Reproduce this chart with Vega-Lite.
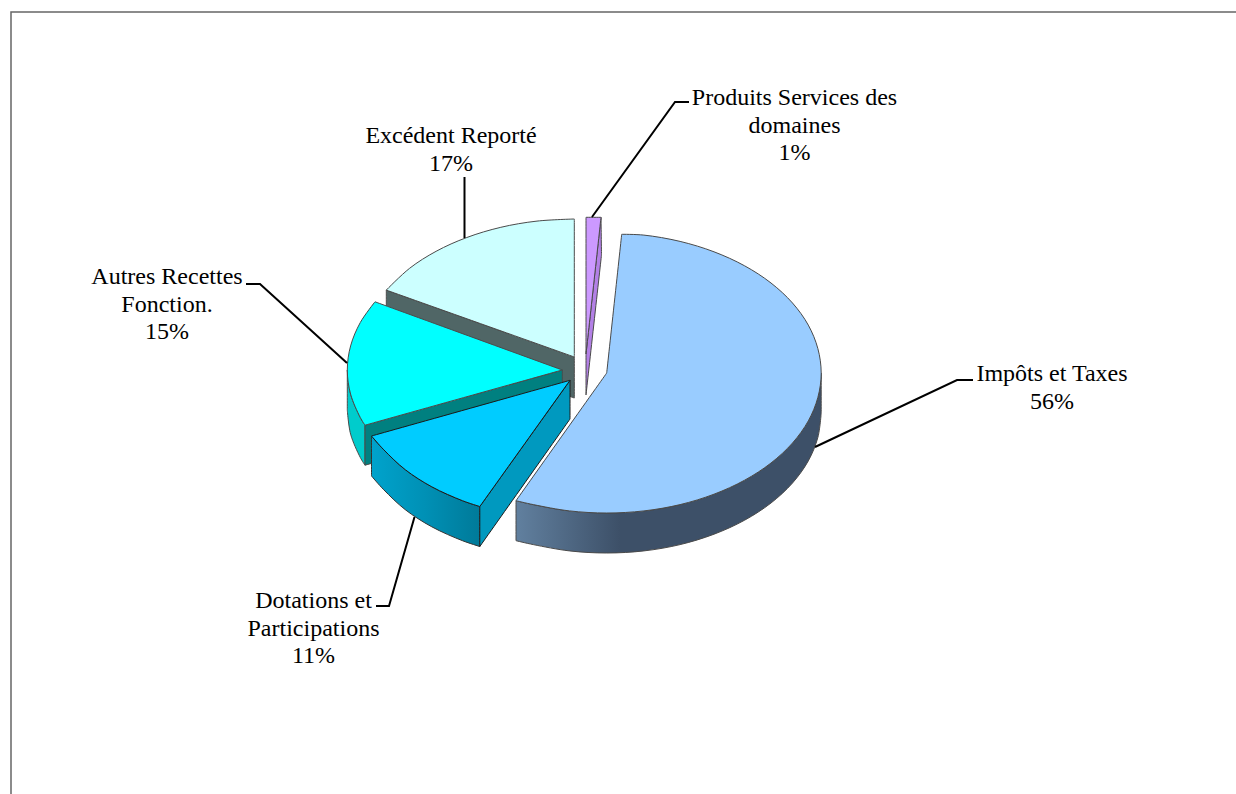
{
  "$schema": "https://vega.github.io/schema/vega-lite/v6.json",
  "width": 1236,
  "height": 794,
  "autosize": {"type": "none"},
  "padding": 0,
  "background": "#ffffff",
  "view": {"stroke": null},
  "datasets": {
    "faces": [
      {"part":"excedent_coupe","n":1,"x":386.3,"y":290.1},{"part":"excedent_coupe","n":2,"x":386.3,"y":290.1},{"part":"excedent_coupe","n":3,"x":574.3,"y":357},{"part":"excedent_coupe","n":4,"x":574.3,"y":357},{"part":"excedent_coupe","n":5,"x":574.3,"y":398},{"part":"excedent_coupe","n":6,"x":574.3,"y":398},{"part":"excedent_coupe","n":7,"x":386.3,"y":331},{"part":"excedent_coupe","n":8,"x":386.3,"y":331},{"part":"excedent_coupe","n":9,"x":386.3,"y":290.1},{"part":"excedent_coupe","n":10,"x":386.3,"y":290.1},

      {"part":"excedent_dessus","n":1,"x":574.3,"y":219},{"part":"excedent_dessus","n":2,"x":574.3,"y":219},{"part":"excedent_dessus","n":3,"x":537,"y":221.1},{"part":"excedent_dessus","n":4,"x":500.8,"y":227.3},{"part":"excedent_dessus","n":5,"x":466.8,"y":237.5},{"part":"excedent_dessus","n":6,"x":436.1,"y":251.3},{"part":"excedent_dessus","n":7,"x":409.6,"y":268.3},{"part":"excedent_dessus","n":8,"x":386.3,"y":290.1},{"part":"excedent_dessus","n":9,"x":386.3,"y":290.1},{"part":"excedent_dessus","n":10,"x":574.3,"y":357},{"part":"excedent_dessus","n":11,"x":574.3,"y":357},{"part":"excedent_dessus","n":12,"x":574.3,"y":219},{"part":"excedent_dessus","n":13,"x":574.3,"y":219},

      {"part":"produits_coupe","n":1,"x":601,"y":217.3},{"part":"produits_coupe","n":2,"x":601,"y":217.3},{"part":"produits_coupe","n":3,"x":601.5,"y":255},{"part":"produits_coupe","n":4,"x":601.5,"y":255},{"part":"produits_coupe","n":5,"x":586,"y":395},{"part":"produits_coupe","n":6,"x":586,"y":395},{"part":"produits_coupe","n":7,"x":586,"y":354},{"part":"produits_coupe","n":8,"x":586,"y":354},{"part":"produits_coupe","n":9,"x":601,"y":217.3},{"part":"produits_coupe","n":10,"x":601,"y":217.3},

      {"part":"produits_dessus","n":1,"x":586,"y":217.3},{"part":"produits_dessus","n":2,"x":586,"y":217.3},{"part":"produits_dessus","n":3,"x":601,"y":217.3},{"part":"produits_dessus","n":4,"x":601,"y":217.3},{"part":"produits_dessus","n":5,"x":586,"y":354},{"part":"produits_dessus","n":6,"x":586,"y":354},{"part":"produits_dessus","n":7,"x":586,"y":217.3},{"part":"produits_dessus","n":8,"x":586,"y":217.3},

      {"part":"autres_cote","n":1,"x":347.3,"y":370},{"part":"autres_cote","n":2,"x":347.3,"y":370},{"part":"autres_cote","n":3,"x":350.6,"y":394.1},{"part":"autres_cote","n":4,"x":360.3,"y":417.5},{"part":"autres_cote","n":5,"x":365,"y":425.2},{"part":"autres_cote","n":6,"x":365,"y":425.2},{"part":"autres_cote","n":7,"x":365,"y":465.2},{"part":"autres_cote","n":8,"x":365,"y":465.2},{"part":"autres_cote","n":9,"x":360.3,"y":457.5},{"part":"autres_cote","n":10,"x":350.6,"y":434.1},{"part":"autres_cote","n":11,"x":347.3,"y":410},{"part":"autres_cote","n":12,"x":347.3,"y":410},{"part":"autres_cote","n":13,"x":347.3,"y":370},{"part":"autres_cote","n":14,"x":347.3,"y":370},

      {"part":"autres_coupe","n":1,"x":365,"y":425.2},{"part":"autres_coupe","n":2,"x":365,"y":425.2},{"part":"autres_coupe","n":3,"x":562.3,"y":370},{"part":"autres_coupe","n":4,"x":562.3,"y":370},{"part":"autres_coupe","n":5,"x":562.3,"y":410},{"part":"autres_coupe","n":6,"x":562.3,"y":410},{"part":"autres_coupe","n":7,"x":365,"y":465.2},{"part":"autres_coupe","n":8,"x":365,"y":465.2},{"part":"autres_coupe","n":9,"x":365,"y":425.2},{"part":"autres_coupe","n":10,"x":365,"y":425.2},

      {"part":"autres_dessus","n":1,"x":375,"y":301.8},{"part":"autres_dessus","n":2,"x":375,"y":301.8},{"part":"autres_dessus","n":3,"x":360.3,"y":322.5},{"part":"autres_dessus","n":4,"x":350.6,"y":345.9},{"part":"autres_dessus","n":5,"x":347.3,"y":370},{"part":"autres_dessus","n":6,"x":350.6,"y":394.1},{"part":"autres_dessus","n":7,"x":360.3,"y":417.5},{"part":"autres_dessus","n":8,"x":365,"y":425.2},{"part":"autres_dessus","n":9,"x":365,"y":425.2},{"part":"autres_dessus","n":10,"x":562.3,"y":370},{"part":"autres_dessus","n":11,"x":562.3,"y":370},{"part":"autres_dessus","n":12,"x":375,"y":301.8},{"part":"autres_dessus","n":13,"x":375,"y":301.8},

      {"part":"dotations_cote","n":1,"x":371.5,"y":436},{"part":"dotations_cote","n":2,"x":371.5,"y":436},{"part":"dotations_cote","n":3,"x":383.8,"y":449.8},{"part":"dotations_cote","n":4,"x":405.3,"y":469.7},{"part":"dotations_cote","n":5,"x":431.8,"y":486.8},{"part":"dotations_cote","n":6,"x":462.5,"y":500.7},{"part":"dotations_cote","n":7,"x":479.8,"y":506.5},{"part":"dotations_cote","n":8,"x":479.8,"y":506.5},{"part":"dotations_cote","n":9,"x":479.8,"y":546.5},{"part":"dotations_cote","n":10,"x":479.8,"y":546.5},{"part":"dotations_cote","n":11,"x":462.5,"y":540.7},{"part":"dotations_cote","n":12,"x":431.8,"y":526.8},{"part":"dotations_cote","n":13,"x":405.3,"y":509.7},{"part":"dotations_cote","n":14,"x":383.8,"y":489.8},{"part":"dotations_cote","n":15,"x":371.5,"y":476},{"part":"dotations_cote","n":16,"x":371.5,"y":476},{"part":"dotations_cote","n":17,"x":371.5,"y":436},{"part":"dotations_cote","n":18,"x":371.5,"y":436},

      {"part":"dotations_coupe","n":1,"x":479.8,"y":506.5},{"part":"dotations_coupe","n":2,"x":479.8,"y":506.5},{"part":"dotations_coupe","n":3,"x":570,"y":380.3},{"part":"dotations_coupe","n":4,"x":570,"y":380.3},{"part":"dotations_coupe","n":5,"x":570,"y":419},{"part":"dotations_coupe","n":6,"x":570,"y":419},{"part":"dotations_coupe","n":7,"x":479.8,"y":546.5},{"part":"dotations_coupe","n":8,"x":479.8,"y":546.5},{"part":"dotations_coupe","n":9,"x":479.8,"y":506.5},{"part":"dotations_coupe","n":10,"x":479.8,"y":506.5},

      {"part":"dotations_dessus","n":1,"x":570,"y":380.3},{"part":"dotations_dessus","n":2,"x":570,"y":380.3},{"part":"dotations_dessus","n":3,"x":371.5,"y":436},{"part":"dotations_dessus","n":4,"x":371.5,"y":436},{"part":"dotations_dessus","n":5,"x":383.8,"y":449.8},{"part":"dotations_dessus","n":6,"x":405.3,"y":469.7},{"part":"dotations_dessus","n":7,"x":431.8,"y":486.8},{"part":"dotations_dessus","n":8,"x":462.5,"y":500.7},{"part":"dotations_dessus","n":9,"x":479.8,"y":506.5},{"part":"dotations_dessus","n":10,"x":479.8,"y":506.5},{"part":"dotations_dessus","n":11,"x":570,"y":380.3},{"part":"dotations_dessus","n":12,"x":570,"y":380.3},

      {"part":"impots_cote","n":1,"x":821.2,"y":373},{"part":"impots_cote","n":2,"x":821.2,"y":373},{"part":"impots_cote","n":3,"x":817.9,"y":397.3},{"part":"impots_cote","n":4,"x":808.3,"y":420.9},{"part":"impots_cote","n":5,"x":792.5,"y":443},{"part":"impots_cote","n":6,"x":771,"y":463},{"part":"impots_cote","n":7,"x":744.6,"y":480.2},{"part":"impots_cote","n":8,"x":714,"y":494.2},{"part":"impots_cote","n":9,"x":680.1,"y":504.6},{"part":"impots_cote","n":10,"x":643.9,"y":510.9},{"part":"impots_cote","n":11,"x":606.7,"y":513},{"part":"impots_cote","n":12,"x":569.5,"y":510.9},{"part":"impots_cote","n":13,"x":533.3,"y":504.6},{"part":"impots_cote","n":14,"x":516,"y":500.7},{"part":"impots_cote","n":15,"x":516,"y":500.7},{"part":"impots_cote","n":16,"x":516,"y":540.7},{"part":"impots_cote","n":17,"x":516,"y":540.7},{"part":"impots_cote","n":18,"x":533.3,"y":544.6},{"part":"impots_cote","n":19,"x":569.5,"y":550.9},{"part":"impots_cote","n":20,"x":606.7,"y":553},{"part":"impots_cote","n":21,"x":643.9,"y":550.9},{"part":"impots_cote","n":22,"x":680.1,"y":544.6},{"part":"impots_cote","n":23,"x":714,"y":534.2},{"part":"impots_cote","n":24,"x":744.6,"y":520.2},{"part":"impots_cote","n":25,"x":771,"y":503},{"part":"impots_cote","n":26,"x":792.5,"y":483},{"part":"impots_cote","n":27,"x":808.3,"y":460.9},{"part":"impots_cote","n":28,"x":817.9,"y":437.3},{"part":"impots_cote","n":29,"x":821.2,"y":413},{"part":"impots_cote","n":30,"x":821.2,"y":413},{"part":"impots_cote","n":31,"x":821.2,"y":373},{"part":"impots_cote","n":32,"x":821.2,"y":373},

      {"part":"impots_dessus","n":1,"x":621.7,"y":234.3},{"part":"impots_dessus","n":2,"x":621.7,"y":234.3},{"part":"impots_dessus","n":3,"x":643.9,"y":235.1},{"part":"impots_dessus","n":4,"x":680.1,"y":241.4},{"part":"impots_dessus","n":5,"x":714,"y":251.8},{"part":"impots_dessus","n":6,"x":744.6,"y":265.8},{"part":"impots_dessus","n":7,"x":771,"y":283},{"part":"impots_dessus","n":8,"x":792.5,"y":303},{"part":"impots_dessus","n":9,"x":808.3,"y":325.1},{"part":"impots_dessus","n":10,"x":817.9,"y":348.7},{"part":"impots_dessus","n":11,"x":821.2,"y":373},{"part":"impots_dessus","n":12,"x":817.9,"y":397.3},{"part":"impots_dessus","n":13,"x":808.3,"y":420.9},{"part":"impots_dessus","n":14,"x":792.5,"y":443},{"part":"impots_dessus","n":15,"x":771,"y":463},{"part":"impots_dessus","n":16,"x":744.6,"y":480.2},{"part":"impots_dessus","n":17,"x":714,"y":494.2},{"part":"impots_dessus","n":18,"x":680.1,"y":504.6},{"part":"impots_dessus","n":19,"x":643.9,"y":510.9},{"part":"impots_dessus","n":20,"x":606.7,"y":513},{"part":"impots_dessus","n":21,"x":569.5,"y":510.9},{"part":"impots_dessus","n":22,"x":533.3,"y":504.6},{"part":"impots_dessus","n":23,"x":516,"y":500.7},{"part":"impots_dessus","n":24,"x":516,"y":500.7},{"part":"impots_dessus","n":25,"x":606.7,"y":373},{"part":"impots_dessus","n":26,"x":606.7,"y":373},{"part":"impots_dessus","n":27,"x":621.7,"y":234.3},{"part":"impots_dessus","n":28,"x":621.7,"y":234.3}
    ],
    "cadre": [
      {"n":1,"x":11,"y":794},{"n":2,"x":11,"y":12},{"n":3,"x":1236,"y":12}
    ],
    "repères": [
      {"poste":"Produits","n":1,"x":592,"y":217},{"poste":"Produits","n":2,"x":675,"y":102},{"poste":"Produits","n":3,"x":689,"y":102},
      {"poste":"Excédent","n":1,"x":464.5,"y":238},{"poste":"Excédent","n":2,"x":464.5,"y":177},
      {"poste":"Autres","n":1,"x":347,"y":363},{"poste":"Autres","n":2,"x":260,"y":284},{"poste":"Autres","n":3,"x":246,"y":284},
      {"poste":"Dotations","n":1,"x":414.5,"y":517},{"poste":"Dotations","n":2,"x":389,"y":606},{"poste":"Dotations","n":3,"x":376,"y":606},
      {"poste":"Impôts","n":1,"x":815,"y":447},{"poste":"Impôts","n":2,"x":957,"y":380},{"poste":"Impôts","n":3,"x":973,"y":380}
    ],
    "postes": [
      {"texte":"Produits Services des\ndomaines\n1%","x":794.5,"y":98},
      {"texte":"Excédent Reporté\n17%","x":451,"y":136},
      {"texte":"Autres Recettes\nFonction.\n15%","x":167,"y":277},
      {"texte":"Dotations et\nParticipations\n11%","x":313.5,"y":601},
      {"texte":"Impôts et Taxes\n56%","x":1052,"y":374}
    ]
  },
  "resolve": {"scale": {"fill": "independent"}},
  "layer": [
    {
      "data": {"name": "cadre"},
      "mark": {"type": "line", "stroke": "#666666", "strokeWidth": 1.5},
      "encoding": {
        "x": {"field": "x", "type": "quantitative", "axis": null, "scale": {"domain": [0, 1236], "nice": false, "zero": false}},
        "y": {"field": "y", "type": "quantitative", "axis": null, "scale": {"domain": [794, 0], "nice": false, "zero": false}},
        "order": {"field": "n"}
      }
    },
    {
      "data": {"name": "faces"},
      "transform": [{"filter": {"field": "part", "oneOf": ["excedent_coupe", "excedent_dessus", "produits_coupe", "produits_dessus", "autres_cote", "autres_coupe", "autres_dessus"]}}],
      "mark": {"type": "line", "filled": true, "interpolate": "catmull-rom", "stroke": "#4a4a4a", "strokeWidth": 1},
      "encoding": {
        "x": {"field": "x", "type": "quantitative"},
        "y": {"field": "y", "type": "quantitative"},
        "order": {"field": "n"},
        "detail": {"field": "part"},
        "fill": {"field": "part", "type": "nominal", "legend": null, "scale": {
          "domain": ["excedent_coupe", "excedent_dessus", "produits_coupe", "produits_dessus", "autres_cote", "autres_coupe", "autres_dessus"],
          "range": ["#506666", "#ccffff", "#b380e6", "#cc99ff", "#00cccc", "#008080", "#00ffff"]}}
      }
    },
    {
      "data": {"name": "faces"},
      "transform": [{"filter": {"field": "part", "equal": "dotations_cote"}}],
      "mark": {"type": "line", "interpolate": "catmull-rom", "stroke": "#333333", "strokeWidth": 1,
        "fill": {"x1": 0, "x2": 1, "y1": 0, "y2": 0, "gradient": "linear", "stops": [
          {"offset": 0, "color": "#00a3cc"}, {"offset": 0.5, "color": "#0090b5"}, {"offset": 1, "color": "#007a99"}]}},
      "encoding": {
        "x": {"field": "x", "type": "quantitative"},
        "y": {"field": "y", "type": "quantitative"},
        "order": {"field": "n"}
      }
    },
    {
      "data": {"name": "faces"},
      "transform": [{"filter": {"field": "part", "oneOf": ["dotations_coupe", "dotations_dessus"]}}],
      "mark": {"type": "line", "filled": true, "interpolate": "catmull-rom", "stroke": "#1a1a1a", "strokeWidth": 1},
      "encoding": {
        "x": {"field": "x", "type": "quantitative"},
        "y": {"field": "y", "type": "quantitative"},
        "order": {"field": "n"},
        "detail": {"field": "part"},
        "fill": {"field": "part", "type": "nominal", "legend": null, "scale": {
          "domain": ["dotations_coupe", "dotations_dessus"],
          "range": ["#0099bf", "#00ccff"]}}
      }
    },
    {
      "data": {"name": "faces"},
      "transform": [{"filter": {"field": "part", "equal": "impots_cote"}}],
      "mark": {"type": "line", "interpolate": "catmull-rom", "stroke": "#4a4a4a", "strokeWidth": 1,
        "fill": {"x1": 0, "x2": 1, "y1": 0, "y2": 0, "gradient": "linear", "stops": [
          {"offset": 0, "color": "#61809f"}, {"offset": 0.34, "color": "#3d5068"}, {"offset": 1, "color": "#3d5068"}]}},
      "encoding": {
        "x": {"field": "x", "type": "quantitative"},
        "y": {"field": "y", "type": "quantitative"},
        "order": {"field": "n"}
      }
    },
    {
      "data": {"name": "faces"},
      "transform": [{"filter": {"field": "part", "equal": "impots_dessus"}}],
      "mark": {"type": "line", "interpolate": "catmull-rom", "stroke": "#4a4a4a", "strokeWidth": 1, "fill": "#99ccff"},
      "encoding": {
        "x": {"field": "x", "type": "quantitative"},
        "y": {"field": "y", "type": "quantitative"},
        "order": {"field": "n"}
      }
    },
    {
      "data": {"name": "repères"},
      "mark": {"type": "line", "stroke": "#000000", "strokeWidth": 2},
      "encoding": {
        "x": {"field": "x", "type": "quantitative"},
        "y": {"field": "y", "type": "quantitative"},
        "order": {"field": "n"},
        "detail": {"field": "poste"}
      }
    },
    {
      "data": {"name": "postes"},
      "mark": {"type": "text", "font": "Liberation Serif", "fontSize": 24, "lineBreak": "\n", "lineHeight": 27.6, "align": "center", "baseline": "middle", "color": "#000000"},
      "encoding": {
        "x": {"field": "x", "type": "quantitative"},
        "y": {"field": "y", "type": "quantitative"},
        "text": {"field": "texte"}
      }
    }
  ]
}
